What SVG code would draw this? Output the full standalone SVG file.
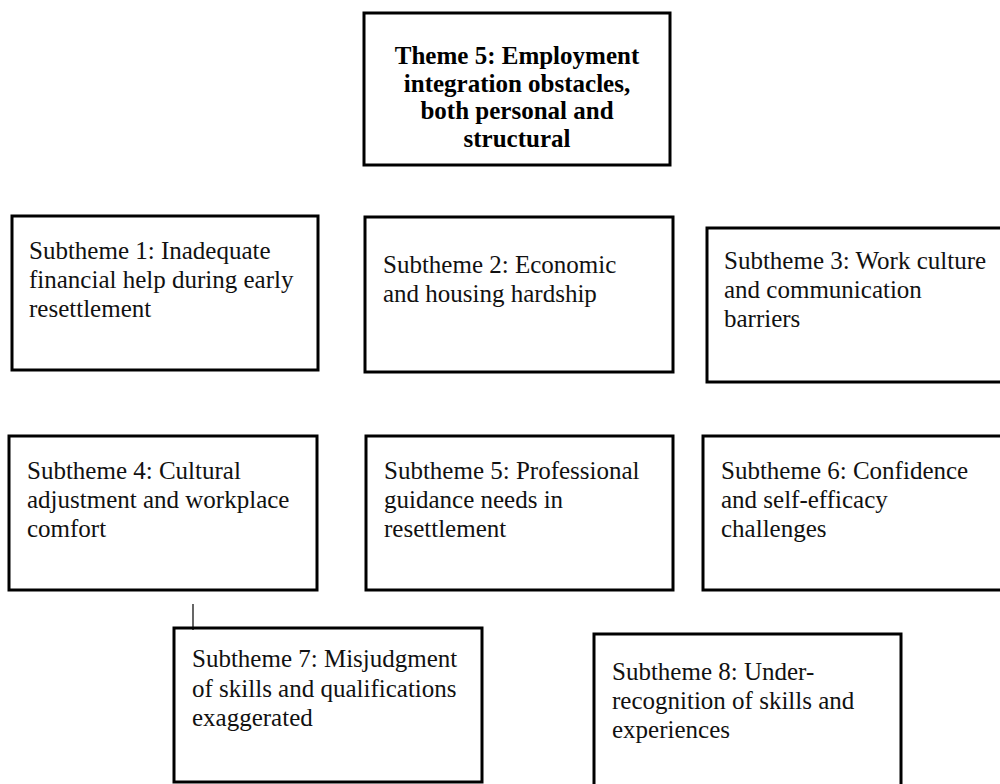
<svg xmlns="http://www.w3.org/2000/svg" width="1000" height="784" viewBox="0 0 1000 784">
<style>
.box{fill:#fff;stroke:#000;stroke-width:3}
.t{font-family:'Liberation Serif','Times New Roman','DejaVu Serif',serif;font-size:25px;fill:#111}
.b{font-family:'Liberation Serif','Times New Roman','DejaVu Serif',serif;font-size:25px;font-weight:bold;fill:#000;text-anchor:middle}
.c{stroke:#000;stroke-width:1.2;fill:none}
</style>
<rect width="1000" height="784" fill="#fff"/>
<g id="theme5">
<rect class="box" x="364" y="13" width="306" height="152"/>
<text class="b" x="517" y="64">Theme 5: Employment</text>
<text class="b" x="517" y="92">integration obstacles,</text>
<text class="b" x="517" y="119">both personal and</text>
<text class="b" x="517" y="147">structural</text>
</g>
<g id="sub1">
<rect class="box" x="12" y="216" width="306" height="154"/>
<text class="t" x="29" y="259">Subtheme 1: Inadequate</text>
<text class="t" x="29" y="288">financial help during early</text>
<text class="t" x="29" y="317">resettlement</text>
</g>
<g id="sub2">
<rect class="box" x="365" y="217" width="308" height="155"/>
<text class="t" x="383" y="273">Subtheme 2: Economic</text>
<text class="t" x="383" y="302">and housing hardship</text>
</g>
<g id="sub3">
<rect class="box" x="707" y="228" width="303" height="154"/>
<text class="t" x="724" y="269">Subtheme 3: Work culture</text>
<text class="t" x="724" y="298">and communication</text>
<text class="t" x="724" y="327">barriers</text>
</g>
<g id="sub4">
<rect class="box" x="9" y="436" width="308" height="154"/>
<text class="t" x="27" y="479">Subtheme 4: Cultural</text>
<text class="t" x="27" y="508">adjustment and workplace</text>
<text class="t" x="27" y="537">comfort</text>
</g>
<g id="sub5">
<rect class="box" x="366" y="436" width="307" height="154"/>
<text class="t" x="384" y="479">Subtheme 5: Professional</text>
<text class="t" x="384" y="508">guidance needs in</text>
<text class="t" x="384" y="537">resettlement</text>
</g>
<g id="sub6">
<rect class="box" x="703" y="436" width="307" height="154"/>
<text class="t" x="721" y="479">Subtheme 6: Confidence</text>
<text class="t" x="721" y="508">and self-efficacy</text>
<text class="t" x="721" y="537">challenges</text>
</g>
<g id="sub7">
<rect class="box" x="174" y="628" width="308" height="154"/>
<text class="t" x="192" y="667">Subtheme 7: Misjudgment</text>
<text class="t" x="192" y="697">of skills and qualifications</text>
<text class="t" x="192" y="726">exaggerated</text>
</g>
<g id="sub8">
<rect class="box" x="594" y="634" width="307" height="160"/>
<text class="t" x="612" y="680">Subtheme 8: Under-</text>
<text class="t" x="612" y="709">recognition of skills and</text>
<text class="t" x="612" y="738">experiences</text>
</g>
<g id="connectors">
<line class="c" x1="193" y1="604" x2="193" y2="630"/>
</g>
</svg>
